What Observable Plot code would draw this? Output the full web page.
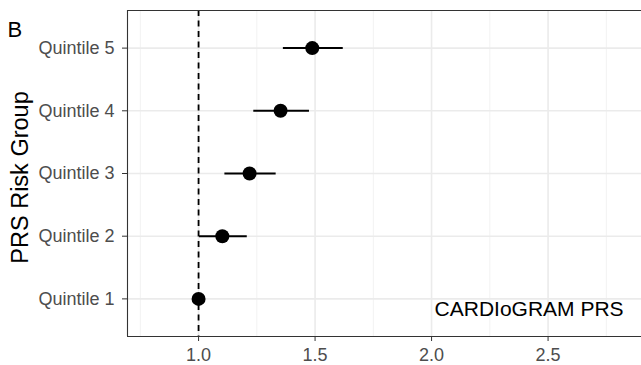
<!DOCTYPE html>
<html><head><meta charset="utf-8">
<script src="https://cdn.jsdelivr.net/npm/d3@7"></script>
<script src="https://cdn.jsdelivr.net/npm/@observablehq/plot@0.6"></script>
<style>
body{margin:0;background:#fff;}
#wrap{position:relative;width:641px;height:365px;overflow:hidden;}
</style>
</head><body><div id="wrap"></div>
<script>
const groups = ["Quintile 1","Quintile 2","Quintile 3","Quintile 4","Quintile 5"];
const estimate = [1.0, 1.102, 1.219, 1.352, 1.488];
const lower = [1.0, 1.004, 1.113, 1.237, 1.364];
const upper = [1.0, 1.209, 1.333, 1.476, 1.621];
const xTicks = [1.0, 1.5, 2.0, 2.5];
const xMinor = [0.75, 1.25, 1.75, 2.25, 2.75];
const refLine = 1.0;
const annotation = "CARDIoGRAM PRS";
const panelLabel = "B";
const yTitle = "PRS Risk Group";

const data = groups.map((g, i) => ({group: g, idx: i + 1, est: estimate[i], lo: lower[i], hi: upper[i]}));
const yIdx = groups.map((g, i) => i + 1);
const xDomain = [0.695, 2.901];
const yDomain = [0.4, 5.6];

const chart = Plot.plot({
  width: 641,
  height: 365,
  marginLeft: 127,
  marginRight: 0,
  marginTop: 10,
  marginBottom: 29,
  style: {fontFamily: "'Liberation Sans', Arial, sans-serif", background: "#fff", overflow: "visible"},
  x: {domain: xDomain},
  y: {domain: yDomain},
  marks: [
    Plot.ruleX(xMinor, {stroke: "#f2f2f2", strokeWidth: 1}),
    Plot.ruleX(xTicks, {stroke: "#ebebeb", strokeWidth: 1.6}),
    Plot.ruleY(yIdx, {stroke: "#ebebeb", strokeWidth: 1.6}),
    Plot.ruleX([refLine], {stroke: "#000", strokeWidth: 1.8, strokeDasharray: "6,4.5"}),
    Plot.ruleY(data, {y: "idx", x1: "lo", x2: "hi", stroke: "#000", strokeWidth: 2}),
    Plot.dot(data, {x: "est", y: "idx", r: 7, fill: "#000", stroke: "none"}),
    Plot.text([annotation], {x: 2.013, y: 0.836, text: d => d, textAnchor: "start", lineAnchor: "middle", fontSize: 21, fill: "#000"}),
    Plot.ruleX([xDomain[0]], {stroke: "#333", strokeWidth: 1.1}),
    Plot.ruleY(yDomain, {stroke: "#333", strokeWidth: 1.1}),
    Plot.axisY(yIdx, {tickFormat: i => groups[i - 1], tickSize: 5, tickPadding: 8, fontSize: 18, fill: "#4d4d4d", stroke: "#333", label: null}),
    Plot.axisX(xTicks, {tickFormat: d => d.toFixed(1), tickSize: 5, tickPadding: 7, fontSize: 18, fill: "#4d4d4d", stroke: "#333", label: null}),
    Plot.text([yTitle], {frameAnchor: "left", dx: -107.5, dy: 4, rotate: -90, text: d => d, fontSize: 23.5, textAnchor: "middle", lineAnchor: "middle", fill: "#000"}),
    Plot.text([panelLabel], {frameAnchor: "top-left", dx: -120, dy: 10.7, text: d => d, fontSize: 22, textAnchor: "start", lineAnchor: "top", fill: "#000"})
  ]
});
document.getElementById("wrap").appendChild(chart);
</script>
</body></html>
